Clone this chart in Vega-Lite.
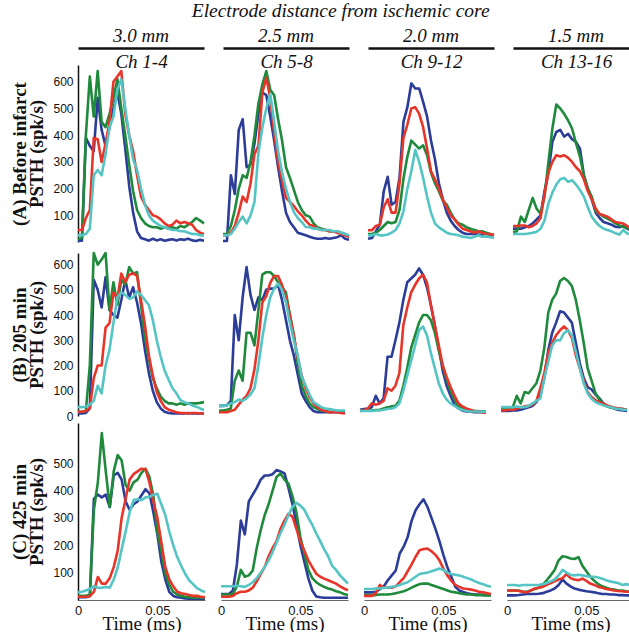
{
"$schema":"https://vega.github.io/schema/vega-lite/v6.json",
"padding":{"left":10,"top":0,"right":0,"bottom":0},
"background":"white",
"title":{"text":"Electrode distance from ischemic core","anchor":"middle","dx":15,"offset":6,"fontSize":19.5},
"config":{
 "view":{"stroke":null},
 "line":{"strokeWidth":2.6,"clip":true,"strokeJoin":"round","strokeCap":"butt"},
 "title":{"font":"Liberation Serif","fontStyle":"italic","fontWeight":"normal","fontSize":19,"color":"#111","offset":2},
 "axis":{"grid":false,"ticks":false,"labelFont":"Liberation Sans","labelFontSize":12,"labelColor":"#111","domainColor":"#111","titleColor":"#111","titleFont":"Liberation Serif"},
 "axisY":{"labelPadding":5,"domainWidth":1.5,"titleFontSize":19,"titleFontWeight":"bold","titleLineHeight":17,"titlePadding":6},
 "axisX":{"labelFontSize":13,"labelFlush":false,"labelPadding":4,"domainColor":"#666","domainWidth":1.2,"titleFontWeight":"normal","titleFontSize":19,"titlePadding":-3}
},
"data":{"values":[
{"p":"A1","t":0,"b":5,"g":10,"r":45,"c":25},
{"p":"A1","t":0.0025,"b":5,"g":15,"r":45,"c":25},
{"p":"A1","t":0.005,"b":390,"g":400,"r":90,"c":30},
{"p":"A1","t":0.0075,"b":360,"g":620,"r":120,"c":50},
{"p":"A1","t":0.01,"b":340,"g":470,"r":390,"c":250},
{"p":"A1","t":0.0125,"b":540,"g":640,"r":385,"c":270},
{"p":"A1","t":0.015,"b":420,"g":450,"r":300,"c":250},
{"p":"A1","t":0.0175,"b":360,"g":430,"r":370,"c":330},
{"p":"A1","t":0.02,"b":430,"g":480,"r":450,"c":430},
{"p":"A1","t":0.0225,"b":500,"g":540,"r":600,"c":470},
{"p":"A1","t":0.025,"b":560,"g":610,"r":620,"c":570},
{"p":"A1","t":0.0275,"b":480,"g":500,"r":640,"c":610},
{"p":"A1","t":0.03,"b":350,"g":400,"r":480,"c":500},
{"p":"A1","t":0.0325,"b":210,"g":290,"r":400,"c":400},
{"p":"A1","t":0.035,"b":110,"g":190,"r":340,"c":310},
{"p":"A1","t":0.0375,"b":40,"g":120,"r":250,"c":270},
{"p":"A1","t":0.04,"b":15,"g":90,"r":170,"c":200},
{"p":"A1","t":0.0425,"b":10,"g":70,"r":140,"c":140},
{"p":"A1","t":0.045,"b":5,"g":60,"r":120,"c":100},
{"p":"A1","t":0.0475,"b":12,"g":55,"r":100,"c":80},
{"p":"A1","t":0.05,"b":6,"g":55,"r":95,"c":70},
{"p":"A1","t":0.0525,"b":10,"g":50,"r":85,"c":60},
{"p":"A1","t":0.055,"b":5,"g":55,"r":70,"c":55},
{"p":"A1","t":0.0575,"b":8,"g":50,"r":60,"c":50},
{"p":"A1","t":0.06,"b":10,"g":55,"r":65,"c":45},
{"p":"A1","t":0.0625,"b":6,"g":50,"r":80,"c":45},
{"p":"A1","t":0.065,"b":10,"g":60,"r":70,"c":40},
{"p":"A1","t":0.0675,"b":8,"g":55,"r":75,"c":40},
{"p":"A1","t":0.07,"b":12,"g":65,"r":70,"c":35},
{"p":"A1","t":0.0725,"b":6,"g":75,"r":65,"c":30},
{"p":"A1","t":0.075,"b":4,"g":90,"r":45,"c":30},
{"p":"A1","t":0.0775,"b":8,"g":80,"r":35,"c":25},
{"p":"A1","t":0.08,"b":5,"g":70,"r":30,"c":25},
{"p":"A2","t":0,"b":4,"g":30,"r":25,"c":25},
{"p":"A2","t":0.0025,"b":4,"g":30,"r":25,"c":25},
{"p":"A2","t":0.005,"b":250,"g":60,"r":35,"c":30},
{"p":"A2","t":0.0075,"b":180,"g":120,"r":60,"c":50},
{"p":"A2","t":0.01,"b":420,"g":200,"r":110,"c":75},
{"p":"A2","t":0.0125,"b":460,"g":250,"r":170,"c":95},
{"p":"A2","t":0.015,"b":280,"g":240,"r":150,"c":70},
{"p":"A2","t":0.0175,"b":290,"g":300,"r":220,"c":100},
{"p":"A2","t":0.02,"b":370,"g":400,"r":330,"c":150},
{"p":"A2","t":0.0225,"b":480,"g":520,"r":360,"c":335},
{"p":"A2","t":0.025,"b":560,"g":590,"r":560,"c":430},
{"p":"A2","t":0.0275,"b":550,"g":640,"r":615,"c":500},
{"p":"A2","t":0.03,"b":470,"g":570,"r":540,"c":555},
{"p":"A2","t":0.0325,"b":380,"g":550,"r":410,"c":450},
{"p":"A2","t":0.035,"b":280,"g":460,"r":300,"c":340},
{"p":"A2","t":0.0375,"b":190,"g":380,"r":230,"c":260},
{"p":"A2","t":0.04,"b":110,"g":280,"r":165,"c":200},
{"p":"A2","t":0.0425,"b":75,"g":240,"r":150,"c":150},
{"p":"A2","t":0.045,"b":55,"g":195,"r":135,"c":112},
{"p":"A2","t":0.0475,"b":35,"g":150,"r":115,"c":90},
{"p":"A2","t":0.05,"b":30,"g":120,"r":100,"c":75},
{"p":"A2","t":0.0525,"b":25,"g":100,"r":80,"c":56},
{"p":"A2","t":0.055,"b":20,"g":95,"r":65,"c":55},
{"p":"A2","t":0.0575,"b":15,"g":70,"r":60,"c":50},
{"p":"A2","t":0.06,"b":12,"g":55,"r":50,"c":50},
{"p":"A2","t":0.0625,"b":12,"g":50,"r":45,"c":45},
{"p":"A2","t":0.065,"b":15,"g":45,"r":45,"c":45},
{"p":"A2","t":0.0675,"b":12,"g":40,"r":40,"c":45},
{"p":"A2","t":0.07,"b":15,"g":40,"r":40,"c":40},
{"p":"A2","t":0.0725,"b":18,"g":40,"r":35,"c":40},
{"p":"A2","t":0.075,"b":25,"g":35,"r":30,"c":35},
{"p":"A2","t":0.0775,"b":12,"g":30,"r":25,"c":30},
{"p":"A2","t":0.08,"b":8,"g":20,"r":20,"c":25},
{"p":"A3","t":0,"b":12,"g":30,"r":44,"c":25},
{"p":"A3","t":0.0025,"b":15,"g":30,"r":44,"c":25},
{"p":"A3","t":0.005,"b":40,"g":35,"r":60,"c":30},
{"p":"A3","t":0.0075,"b":65,"g":45,"r":65,"c":25},
{"p":"A3","t":0.01,"b":190,"g":60,"r":130,"c":25},
{"p":"A3","t":0.0125,"b":244,"g":75,"r":160,"c":28},
{"p":"A3","t":0.015,"b":140,"g":70,"r":110,"c":35},
{"p":"A3","t":0.0175,"b":150,"g":75,"r":110,"c":45},
{"p":"A3","t":0.02,"b":240,"g":120,"r":220,"c":70},
{"p":"A3","t":0.0225,"b":450,"g":237,"r":390,"c":115},
{"p":"A3","t":0.025,"b":505,"g":320,"r":440,"c":200},
{"p":"A3","t":0.0275,"b":594,"g":380,"r":500,"c":265},
{"p":"A3","t":0.03,"b":575,"g":365,"r":505,"c":345},
{"p":"A3","t":0.0325,"b":575,"g":350,"r":480,"c":300},
{"p":"A3","t":0.035,"b":525,"g":362,"r":430,"c":240},
{"p":"A3","t":0.0375,"b":470,"g":325,"r":350,"c":170},
{"p":"A3","t":0.04,"b":380,"g":260,"r":265,"c":110},
{"p":"A3","t":0.0425,"b":310,"g":220,"r":235,"c":70},
{"p":"A3","t":0.045,"b":220,"g":190,"r":200,"c":55},
{"p":"A3","t":0.0475,"b":160,"g":155,"r":160,"c":45},
{"p":"A3","t":0.05,"b":110,"g":140,"r":130,"c":35},
{"p":"A3","t":0.0525,"b":80,"g":110,"r":100,"c":30},
{"p":"A3","t":0.055,"b":60,"g":85,"r":85,"c":28},
{"p":"A3","t":0.0575,"b":45,"g":70,"r":65,"c":25},
{"p":"A3","t":0.06,"b":35,"g":65,"r":50,"c":20},
{"p":"A3","t":0.0625,"b":30,"g":55,"r":45,"c":18},
{"p":"A3","t":0.065,"b":30,"g":50,"r":40,"c":15},
{"p":"A3","t":0.0675,"b":30,"g":45,"r":35,"c":20},
{"p":"A3","t":0.07,"b":28,"g":40,"r":40,"c":25},
{"p":"A3","t":0.0725,"b":25,"g":40,"r":35,"c":20},
{"p":"A3","t":0.075,"b":22,"g":35,"r":30,"c":22},
{"p":"A3","t":0.0775,"b":20,"g":30,"r":30,"c":18},
{"p":"A3","t":0.08,"b":18,"g":27,"r":25,"c":18},
{"p":"A4","t":0,"b":50,"g":37,"r":60,"c":30},
{"p":"A4","t":0.0025,"b":50,"g":40,"r":60,"c":30},
{"p":"A4","t":0.005,"b":50,"g":95,"r":62,"c":30},
{"p":"A4","t":0.0075,"b":55,"g":75,"r":62,"c":30},
{"p":"A4","t":0.01,"b":60,"g":120,"r":55,"c":32},
{"p":"A4","t":0.0125,"b":70,"g":165,"r":60,"c":35},
{"p":"A4","t":0.015,"b":85,"g":125,"r":70,"c":38},
{"p":"A4","t":0.0175,"b":100,"g":106,"r":90,"c":50},
{"p":"A4","t":0.02,"b":190,"g":170,"r":180,"c":80},
{"p":"A4","t":0.0225,"b":260,"g":300,"r":260,"c":145},
{"p":"A4","t":0.025,"b":375,"g":425,"r":300,"c":185},
{"p":"A4","t":0.0275,"b":412,"g":515,"r":325,"c":215},
{"p":"A4","t":0.03,"b":420,"g":500,"r":320,"c":235},
{"p":"A4","t":0.0325,"b":395,"g":480,"r":325,"c":240},
{"p":"A4","t":0.035,"b":405,"g":455,"r":315,"c":225},
{"p":"A4","t":0.0375,"b":385,"g":425,"r":300,"c":232},
{"p":"A4","t":0.04,"b":375,"g":370,"r":280,"c":215},
{"p":"A4","t":0.0425,"b":350,"g":320,"r":265,"c":195},
{"p":"A4","t":0.045,"b":250,"g":250,"r":235,"c":170},
{"p":"A4","t":0.0475,"b":200,"g":200,"r":190,"c":130},
{"p":"A4","t":0.05,"b":160,"g":170,"r":160,"c":95},
{"p":"A4","t":0.0525,"b":110,"g":115,"r":125,"c":75},
{"p":"A4","t":0.055,"b":90,"g":105,"r":105,"c":60},
{"p":"A4","t":0.0575,"b":75,"g":95,"r":100,"c":50},
{"p":"A4","t":0.06,"b":70,"g":88,"r":95,"c":45},
{"p":"A4","t":0.0625,"b":65,"g":80,"r":85,"c":40},
{"p":"A4","t":0.065,"b":57,"g":70,"r":75,"c":33},
{"p":"A4","t":0.0675,"b":55,"g":62,"r":72,"c":28},
{"p":"A4","t":0.07,"b":60,"g":56,"r":69,"c":45},
{"p":"A4","t":0.0725,"b":50,"g":52,"r":60,"c":32},
{"p":"A4","t":0.075,"b":45,"g":50,"r":50,"c":28},
{"p":"A4","t":0.0775,"b":40,"g":45,"r":40,"c":25},
{"p":"A4","t":0.08,"b":30,"g":30,"r":30,"c":25},
{"p":"B1","t":0,"b":10,"g":17,"r":17,"c":35},
{"p":"B1","t":0.0025,"b":10,"g":17,"r":17,"c":35},
{"p":"B1","t":0.005,"b":12,"g":20,"r":20,"c":38},
{"p":"B1","t":0.0075,"b":30,"g":200,"r":30,"c":45},
{"p":"B1","t":0.01,"b":540,"g":646,"r":150,"c":60},
{"p":"B1","t":0.0125,"b":500,"g":600,"r":200,"c":120},
{"p":"B1","t":0.015,"b":430,"g":620,"r":200,"c":90},
{"p":"B1","t":0.0175,"b":550,"g":646,"r":350,"c":200},
{"p":"B1","t":0.02,"b":420,"g":420,"r":368,"c":262},
{"p":"B1","t":0.0225,"b":400,"g":530,"r":490,"c":370},
{"p":"B1","t":0.025,"b":390,"g":440,"r":465,"c":470},
{"p":"B1","t":0.0275,"b":460,"g":540,"r":565,"c":490},
{"p":"B1","t":0.03,"b":540,"g":520,"r":530,"c":480},
{"p":"B1","t":0.0325,"b":470,"g":590,"r":560,"c":465},
{"p":"B1","t":0.035,"b":510,"g":565,"r":565,"c":470},
{"p":"B1","t":0.0375,"b":450,"g":570,"r":555,"c":494},
{"p":"B1","t":0.04,"b":368,"g":440,"r":460,"c":480},
{"p":"B1","t":0.0425,"b":262,"g":310,"r":360,"c":460},
{"p":"B1","t":0.045,"b":170,"g":225,"r":240,"c":440},
{"p":"B1","t":0.0475,"b":100,"g":150,"r":160,"c":380},
{"p":"B1","t":0.05,"b":55,"g":110,"r":95,"c":300},
{"p":"B1","t":0.0525,"b":30,"g":77,"r":60,"c":235},
{"p":"B1","t":0.055,"b":17,"g":60,"r":35,"c":180},
{"p":"B1","t":0.0575,"b":12,"g":50,"r":25,"c":145},
{"p":"B1","t":0.06,"b":10,"g":50,"r":20,"c":110},
{"p":"B1","t":0.0625,"b":10,"g":45,"r":15,"c":90},
{"p":"B1","t":0.065,"b":10,"g":50,"r":12,"c":63},
{"p":"B1","t":0.0675,"b":10,"g":45,"r":12,"c":55},
{"p":"B1","t":0.07,"b":12,"g":50,"r":10,"c":50},
{"p":"B1","t":0.0725,"b":10,"g":50,"r":12,"c":42},
{"p":"B1","t":0.075,"b":10,"g":50,"r":12,"c":37},
{"p":"B1","t":0.0775,"b":10,"g":52,"r":10,"c":30},
{"p":"B1","t":0.08,"b":10,"g":55,"r":10,"c":24},
{"p":"B2","t":0,"b":40,"g":22,"r":15,"c":40},
{"p":"B2","t":0.0025,"b":40,"g":22,"r":15,"c":40},
{"p":"B2","t":0.005,"b":42,"g":25,"r":15,"c":42},
{"p":"B2","t":0.0075,"b":60,"g":30,"r":20,"c":50},
{"p":"B2","t":0.01,"b":400,"g":140,"r":25,"c":55},
{"p":"B2","t":0.0125,"b":300,"g":180,"r":45,"c":65},
{"p":"B2","t":0.015,"b":470,"g":140,"r":65,"c":60},
{"p":"B2","t":0.0175,"b":590,"g":330,"r":80,"c":70},
{"p":"B2","t":0.02,"b":480,"g":330,"r":110,"c":85},
{"p":"B2","t":0.0225,"b":420,"g":280,"r":185,"c":110},
{"p":"B2","t":0.025,"b":470,"g":420,"r":300,"c":200},
{"p":"B2","t":0.0275,"b":460,"g":560,"r":450,"c":310},
{"p":"B2","t":0.03,"b":500,"g":570,"r":475,"c":400},
{"p":"B2","t":0.0325,"b":505,"g":570,"r":527,"c":470},
{"p":"B2","t":0.035,"b":505,"g":555,"r":555,"c":505},
{"p":"B2","t":0.0375,"b":520,"g":530,"r":555,"c":525},
{"p":"B2","t":0.04,"b":460,"g":510,"r":520,"c":500},
{"p":"B2","t":0.0425,"b":380,"g":490,"r":470,"c":450},
{"p":"B2","t":0.045,"b":300,"g":400,"r":400,"c":370},
{"p":"B2","t":0.0475,"b":240,"g":320,"r":320,"c":300},
{"p":"B2","t":0.05,"b":165,"g":210,"r":230,"c":240},
{"p":"B2","t":0.0525,"b":90,"g":120,"r":160,"c":156},
{"p":"B2","t":0.055,"b":60,"g":80,"r":110,"c":120},
{"p":"B2","t":0.0575,"b":35,"g":50,"r":75,"c":85},
{"p":"B2","t":0.06,"b":20,"g":35,"r":50,"c":55},
{"p":"B2","t":0.0625,"b":15,"g":28,"r":35,"c":45},
{"p":"B2","t":0.065,"b":15,"g":22,"r":25,"c":35},
{"p":"B2","t":0.0675,"b":15,"g":20,"r":20,"c":30},
{"p":"B2","t":0.07,"b":15,"g":17,"r":15,"c":28},
{"p":"B2","t":0.0725,"b":15,"g":17,"r":15,"c":25},
{"p":"B2","t":0.075,"b":15,"g":17,"r":15,"c":22},
{"p":"B2","t":0.0775,"b":15,"g":17,"r":12,"c":22},
{"p":"B2","t":0.08,"b":15,"g":17,"r":10,"c":22},
{"p":"B3","t":0,"b":25,"g":22,"r":20,"c":20},
{"p":"B3","t":0.0025,"b":28,"g":22,"r":22,"c":20},
{"p":"B3","t":0.005,"b":30,"g":22,"r":30,"c":20},
{"p":"B3","t":0.0075,"b":35,"g":22,"r":50,"c":20},
{"p":"B3","t":0.01,"b":80,"g":24,"r":45,"c":22},
{"p":"B3","t":0.0125,"b":50,"g":25,"r":50,"c":22},
{"p":"B3","t":0.015,"b":70,"g":30,"r":60,"c":25},
{"p":"B3","t":0.0175,"b":235,"g":35,"r":110,"c":28},
{"p":"B3","t":0.02,"b":235,"g":38,"r":100,"c":30},
{"p":"B3","t":0.0225,"b":300,"g":40,"r":120,"c":35},
{"p":"B3","t":0.025,"b":370,"g":60,"r":170,"c":50},
{"p":"B3","t":0.0275,"b":460,"g":120,"r":360,"c":100},
{"p":"B3","t":0.03,"b":530,"g":190,"r":430,"c":160},
{"p":"B3","t":0.0325,"b":545,"g":270,"r":490,"c":220},
{"p":"B3","t":0.035,"b":560,"g":320,"r":520,"c":280},
{"p":"B3","t":0.0375,"b":585,"g":370,"r":545,"c":340},
{"p":"B3","t":0.04,"b":560,"g":400,"r":560,"c":355},
{"p":"B3","t":0.0425,"b":510,"g":400,"r":530,"c":320},
{"p":"B3","t":0.045,"b":440,"g":380,"r":440,"c":250},
{"p":"B3","t":0.0475,"b":360,"g":330,"r":360,"c":190},
{"p":"B3","t":0.05,"b":270,"g":260,"r":280,"c":130},
{"p":"B3","t":0.0525,"b":180,"g":200,"r":200,"c":90},
{"p":"B3","t":0.055,"b":120,"g":145,"r":155,"c":65},
{"p":"B3","t":0.0575,"b":80,"g":100,"r":115,"c":50},
{"p":"B3","t":0.06,"b":45,"g":65,"r":80,"c":40},
{"p":"B3","t":0.0625,"b":30,"g":40,"r":50,"c":30},
{"p":"B3","t":0.065,"b":22,"g":30,"r":38,"c":25},
{"p":"B3","t":0.0675,"b":18,"g":25,"r":30,"c":20},
{"p":"B3","t":0.07,"b":18,"g":22,"r":25,"c":18},
{"p":"B3","t":0.0725,"b":15,"g":20,"r":20,"c":18},
{"p":"B3","t":0.075,"b":15,"g":20,"r":18,"c":18},
{"p":"B3","t":0.0775,"b":15,"g":18,"r":15,"c":17},
{"p":"B3","t":0.08,"b":15,"g":18,"r":12,"c":17},
{"p":"B4","t":0,"b":20,"g":28,"r":22,"c":35},
{"p":"B4","t":0.0025,"b":20,"g":30,"r":22,"c":35},
{"p":"B4","t":0.005,"b":20,"g":30,"r":25,"c":35},
{"p":"B4","t":0.0075,"b":22,"g":35,"r":25,"c":35},
{"p":"B4","t":0.01,"b":22,"g":80,"r":30,"c":38},
{"p":"B4","t":0.0125,"b":25,"g":50,"r":35,"c":35},
{"p":"B4","t":0.015,"b":30,"g":95,"r":38,"c":35},
{"p":"B4","t":0.0175,"b":35,"g":90,"r":40,"c":40},
{"p":"B4","t":0.02,"b":40,"g":110,"r":45,"c":50},
{"p":"B4","t":0.0225,"b":55,"g":130,"r":60,"c":60},
{"p":"B4","t":0.025,"b":90,"g":180,"r":110,"c":70},
{"p":"B4","t":0.0275,"b":150,"g":270,"r":170,"c":150},
{"p":"B4","t":0.03,"b":260,"g":410,"r":250,"c":215},
{"p":"B4","t":0.0325,"b":330,"g":460,"r":290,"c":280},
{"p":"B4","t":0.035,"b":370,"g":485,"r":320,"c":300},
{"p":"B4","t":0.0375,"b":415,"g":535,"r":340,"c":300},
{"p":"B4","t":0.04,"b":410,"g":547,"r":355,"c":328},
{"p":"B4","t":0.0425,"b":390,"g":535,"r":340,"c":340},
{"p":"B4","t":0.045,"b":370,"g":515,"r":310,"c":320},
{"p":"B4","t":0.0475,"b":290,"g":460,"r":240,"c":255},
{"p":"B4","t":0.05,"b":210,"g":380,"r":190,"c":190},
{"p":"B4","t":0.0525,"b":150,"g":290,"r":140,"c":130},
{"p":"B4","t":0.055,"b":115,"g":190,"r":95,"c":90},
{"p":"B4","t":0.0575,"b":105,"g":140,"r":75,"c":68},
{"p":"B4","t":0.06,"b":85,"g":90,"r":63,"c":55},
{"p":"B4","t":0.0625,"b":70,"g":65,"r":55,"c":48},
{"p":"B4","t":0.065,"b":50,"g":45,"r":48,"c":42},
{"p":"B4","t":0.0675,"b":40,"g":38,"r":42,"c":38},
{"p":"B4","t":0.07,"b":35,"g":33,"r":37,"c":35},
{"p":"B4","t":0.0725,"b":28,"g":30,"r":33,"c":30},
{"p":"B4","t":0.075,"b":24,"g":30,"r":30,"c":28},
{"p":"B4","t":0.0775,"b":22,"g":28,"r":28,"c":25},
{"p":"B4","t":0.08,"b":20,"g":25,"r":25,"c":25},
{"p":"C1","t":0,"b":10,"g":15,"r":12,"c":28},
{"p":"C1","t":0.0025,"b":10,"g":15,"r":12,"c":30},
{"p":"C1","t":0.005,"b":10,"g":15,"r":12,"c":35},
{"p":"C1","t":0.0075,"b":15,"g":20,"r":14,"c":40},
{"p":"C1","t":0.01,"b":370,"g":330,"r":30,"c":50},
{"p":"C1","t":0.0125,"b":385,"g":430,"r":84,"c":45},
{"p":"C1","t":0.015,"b":375,"g":610,"r":60,"c":45},
{"p":"C1","t":0.0175,"b":385,"g":470,"r":60,"c":48},
{"p":"C1","t":0.02,"b":340,"g":340,"r":80,"c":45},
{"p":"C1","t":0.0225,"b":455,"g":470,"r":120,"c":75},
{"p":"C1","t":0.025,"b":465,"g":530,"r":180,"c":118},
{"p":"C1","t":0.0275,"b":440,"g":510,"r":300,"c":185},
{"p":"C1","t":0.03,"b":360,"g":420,"r":370,"c":250},
{"p":"C1","t":0.0325,"b":330,"g":400,"r":440,"c":320},
{"p":"C1","t":0.035,"b":350,"g":430,"r":460,"c":365},
{"p":"C1","t":0.0375,"b":360,"g":440,"r":470,"c":368},
{"p":"C1","t":0.04,"b":383,"g":465,"r":480,"c":365},
{"p":"C1","t":0.0425,"b":405,"g":480,"r":478,"c":375},
{"p":"C1","t":0.045,"b":390,"g":450,"r":430,"c":377},
{"p":"C1","t":0.0475,"b":320,"g":380,"r":360,"c":385},
{"p":"C1","t":0.05,"b":240,"g":250,"r":300,"c":388},
{"p":"C1","t":0.0525,"b":140,"g":180,"r":210,"c":350},
{"p":"C1","t":0.055,"b":75,"g":96,"r":120,"c":310},
{"p":"C1","t":0.0575,"b":30,"g":55,"r":75,"c":250},
{"p":"C1","t":0.06,"b":15,"g":30,"r":50,"c":200},
{"p":"C1","t":0.0625,"b":10,"g":20,"r":30,"c":157},
{"p":"C1","t":0.065,"b":8,"g":15,"r":25,"c":125},
{"p":"C1","t":0.0675,"b":6,"g":12,"r":22,"c":96},
{"p":"C1","t":0.07,"b":5,"g":10,"r":18,"c":72},
{"p":"C1","t":0.0725,"b":5,"g":8,"r":15,"c":58},
{"p":"C1","t":0.075,"b":5,"g":8,"r":15,"c":43},
{"p":"C1","t":0.0775,"b":5,"g":8,"r":12,"c":35},
{"p":"C1","t":0.08,"b":5,"g":8,"r":10,"c":29},
{"p":"C2","t":0,"b":22,"g":20,"r":12,"c":50},
{"p":"C2","t":0.0025,"b":22,"g":20,"r":12,"c":50},
{"p":"C2","t":0.005,"b":22,"g":20,"r":12,"c":50},
{"p":"C2","t":0.0075,"b":35,"g":22,"r":15,"c":50},
{"p":"C2","t":0.01,"b":130,"g":50,"r":25,"c":52},
{"p":"C2","t":0.0125,"b":290,"g":110,"r":30,"c":50},
{"p":"C2","t":0.015,"b":240,"g":85,"r":30,"c":48},
{"p":"C2","t":0.0175,"b":360,"g":90,"r":35,"c":55},
{"p":"C2","t":0.02,"b":385,"g":108,"r":45,"c":65},
{"p":"C2","t":0.0225,"b":410,"g":190,"r":68,"c":80},
{"p":"C2","t":0.025,"b":440,"g":255,"r":95,"c":100},
{"p":"C2","t":0.0275,"b":455,"g":310,"r":120,"c":120},
{"p":"C2","t":0.03,"b":455,"g":350,"r":160,"c":145},
{"p":"C2","t":0.0325,"b":460,"g":400,"r":190,"c":175},
{"p":"C2","t":0.035,"b":475,"g":450,"r":215,"c":210},
{"p":"C2","t":0.0375,"b":470,"g":462,"r":260,"c":245},
{"p":"C2","t":0.04,"b":463,"g":440,"r":290,"c":275},
{"p":"C2","t":0.0425,"b":410,"g":425,"r":315,"c":310},
{"p":"C2","t":0.045,"b":350,"g":380,"r":305,"c":340},
{"p":"C2","t":0.0475,"b":280,"g":320,"r":260,"c":355},
{"p":"C2","t":0.05,"b":200,"g":230,"r":215,"c":345},
{"p":"C2","t":0.0525,"b":140,"g":170,"r":180,"c":330},
{"p":"C2","t":0.055,"b":80,"g":110,"r":145,"c":300},
{"p":"C2","t":0.0575,"b":35,"g":80,"r":120,"c":275},
{"p":"C2","t":0.06,"b":13,"g":65,"r":96,"c":243},
{"p":"C2","t":0.0625,"b":10,"g":55,"r":85,"c":215},
{"p":"C2","t":0.065,"b":8,"g":48,"r":78,"c":185},
{"p":"C2","t":0.0675,"b":8,"g":42,"r":72,"c":160},
{"p":"C2","t":0.07,"b":8,"g":38,"r":66,"c":125},
{"p":"C2","t":0.0725,"b":8,"g":32,"r":60,"c":110},
{"p":"C2","t":0.075,"b":8,"g":28,"r":50,"c":90},
{"p":"C2","t":0.0775,"b":8,"g":22,"r":42,"c":75},
{"p":"C2","t":0.08,"b":8,"g":18,"r":35,"c":60},
{"p":"C3","t":0,"b":28,"g":18,"r":15,"c":40},
{"p":"C3","t":0.0025,"b":28,"g":18,"r":15,"c":40},
{"p":"C3","t":0.005,"b":28,"g":18,"r":15,"c":40},
{"p":"C3","t":0.0075,"b":30,"g":18,"r":25,"c":42},
{"p":"C3","t":0.01,"b":40,"g":20,"r":55,"c":42},
{"p":"C3","t":0.0125,"b":50,"g":20,"r":45,"c":45},
{"p":"C3","t":0.015,"b":72,"g":20,"r":45,"c":45},
{"p":"C3","t":0.0175,"b":90,"g":22,"r":45,"c":48},
{"p":"C3","t":0.02,"b":108,"g":25,"r":50,"c":50},
{"p":"C3","t":0.0225,"b":170,"g":28,"r":65,"c":55},
{"p":"C3","t":0.025,"b":195,"g":32,"r":80,"c":60},
{"p":"C3","t":0.0275,"b":230,"g":38,"r":105,"c":65},
{"p":"C3","t":0.03,"b":290,"g":45,"r":130,"c":75},
{"p":"C3","t":0.0325,"b":328,"g":52,"r":158,"c":85},
{"p":"C3","t":0.035,"b":350,"g":58,"r":182,"c":95},
{"p":"C3","t":0.0375,"b":368,"g":60,"r":186,"c":98},
{"p":"C3","t":0.04,"b":340,"g":60,"r":188,"c":100},
{"p":"C3","t":0.0425,"b":300,"g":55,"r":178,"c":105},
{"p":"C3","t":0.045,"b":260,"g":50,"r":165,"c":110},
{"p":"C3","t":0.0475,"b":215,"g":45,"r":145,"c":115},
{"p":"C3","t":0.05,"b":165,"g":40,"r":115,"c":110},
{"p":"C3","t":0.0525,"b":120,"g":35,"r":90,"c":100},
{"p":"C3","t":0.055,"b":85,"g":30,"r":70,"c":95},
{"p":"C3","t":0.0575,"b":48,"g":28,"r":55,"c":92},
{"p":"C3","t":0.06,"b":35,"g":25,"r":48,"c":90},
{"p":"C3","t":0.0625,"b":29,"g":22,"r":42,"c":85},
{"p":"C3","t":0.065,"b":25,"g":20,"r":40,"c":80},
{"p":"C3","t":0.0675,"b":22,"g":20,"r":38,"c":75},
{"p":"C3","t":0.07,"b":20,"g":18,"r":35,"c":68},
{"p":"C3","t":0.0725,"b":20,"g":18,"r":30,"c":62},
{"p":"C3","t":0.075,"b":18,"g":18,"r":28,"c":58},
{"p":"C3","t":0.0775,"b":18,"g":17,"r":25,"c":52},
{"p":"C3","t":0.08,"b":18,"g":17,"r":22,"c":48},
{"p":"C4","t":0,"b":17,"g":35,"r":35,"c":55},
{"p":"C4","t":0.0025,"b":17,"g":35,"r":35,"c":55},
{"p":"C4","t":0.005,"b":17,"g":35,"r":35,"c":55},
{"p":"C4","t":0.0075,"b":18,"g":35,"r":33,"c":52},
{"p":"C4","t":0.01,"b":20,"g":30,"r":30,"c":55},
{"p":"C4","t":0.0125,"b":22,"g":30,"r":28,"c":55},
{"p":"C4","t":0.015,"b":22,"g":35,"r":35,"c":55},
{"p":"C4","t":0.0175,"b":22,"g":40,"r":42,"c":55},
{"p":"C4","t":0.02,"b":23,"g":45,"r":45,"c":55},
{"p":"C4","t":0.0225,"b":25,"g":55,"r":48,"c":58},
{"p":"C4","t":0.025,"b":30,"g":72,"r":55,"c":62},
{"p":"C4","t":0.0275,"b":35,"g":90,"r":62,"c":68},
{"p":"C4","t":0.03,"b":42,"g":110,"r":68,"c":75},
{"p":"C4","t":0.0325,"b":55,"g":145,"r":75,"c":90},
{"p":"C4","t":0.035,"b":75,"g":160,"r":80,"c":110},
{"p":"C4","t":0.0375,"b":60,"g":157,"r":95,"c":100},
{"p":"C4","t":0.04,"b":50,"g":152,"r":80,"c":92},
{"p":"C4","t":0.0425,"b":42,"g":150,"r":75,"c":90},
{"p":"C4","t":0.045,"b":38,"g":157,"r":72,"c":92},
{"p":"C4","t":0.0475,"b":35,"g":125,"r":78,"c":90},
{"p":"C4","t":0.05,"b":32,"g":105,"r":70,"c":88},
{"p":"C4","t":0.0525,"b":30,"g":85,"r":60,"c":85},
{"p":"C4","t":0.055,"b":28,"g":70,"r":55,"c":85},
{"p":"C4","t":0.0575,"b":25,"g":58,"r":48,"c":82},
{"p":"C4","t":0.06,"b":22,"g":50,"r":45,"c":78},
{"p":"C4","t":0.0625,"b":22,"g":45,"r":40,"c":72},
{"p":"C4","t":0.065,"b":20,"g":40,"r":38,"c":68},
{"p":"C4","t":0.0675,"b":20,"g":38,"r":35,"c":65},
{"p":"C4","t":0.07,"b":18,"g":35,"r":33,"c":62},
{"p":"C4","t":0.0725,"b":18,"g":35,"r":32,"c":55},
{"p":"C4","t":0.075,"b":17,"g":32,"r":30,"c":58},
{"p":"C4","t":0.0775,"b":17,"g":30,"r":30,"c":55},
{"p":"C4","t":0.08,"b":17,"g":28,"r":28,"c":55}
]},
"vconcat":[
 {"vconcat":[
  {"hconcat":[
   {"width":126,"height":177,"title":"3.0 mm",
    "transform":[{"filter":"datum.p=='A1'"},{"fold":["b","g","r","c"],"as":["s","v"]}],
    "mark":"line",
    "encoding":{
     "x":{"field":"t","type":"quantitative","scale":{"domain":[0,0.08],"nice":false},"axis":{"orient":"top","offset":17,"labels":false,"domainWidth":2.5,"domainColor":"#111","title":"Ch 1-4","titleFontStyle":"italic","titleFontWeight":"normal","titleFontSize":19,"titleY":13,"titleBaseline":"middle"}},
     "y":{"field":"v","type":"quantitative","scale":{"domain":[0,663],"nice":false},"axis":{"values":[100,200,300,400,500,600],"title":["(A)  Before infarct","PSTH (spk/s)"]}},
     "color":{"field":"s","type":"nominal","scale":{"domain":["b","g","r","c"],"range":["#2b3d98","#1f8a3c","#e73529","#55c4c4"]},"legend":null}}},
   {"width":126,"height":177,"title":"2.5 mm",
    "transform":[{"filter":"datum.p=='A2'"},{"fold":["b","g","r","c"],"as":["s","v"]}],
    "mark":"line",
    "encoding":{
     "x":{"field":"t","type":"quantitative","scale":{"domain":[0,0.08],"nice":false},"axis":{"orient":"top","offset":17,"labels":false,"domainWidth":2.5,"domainColor":"#111","title":"Ch 5-8","titleFontStyle":"italic","titleFontWeight":"normal","titleFontSize":19,"titleY":13,"titleBaseline":"middle"}},
     "y":{"field":"v","type":"quantitative","scale":{"domain":[0,663],"nice":false},"axis":null},
     "color":{"field":"s","type":"nominal","scale":{"domain":["b","g","r","c"],"range":["#2b3d98","#1f8a3c","#e73529","#55c4c4"]},"legend":null}}},
   {"width":126,"height":177,"title":"2.0 mm",
    "transform":[{"filter":"datum.p=='A3'"},{"fold":["b","g","r","c"],"as":["s","v"]}],
    "mark":"line",
    "encoding":{
     "x":{"field":"t","type":"quantitative","scale":{"domain":[0,0.08],"nice":false},"axis":{"orient":"top","offset":17,"labels":false,"domainWidth":2.5,"domainColor":"#111","title":"Ch 9-12","titleFontStyle":"italic","titleFontWeight":"normal","titleFontSize":19,"titleY":13,"titleBaseline":"middle"}},
     "y":{"field":"v","type":"quantitative","scale":{"domain":[0,663],"nice":false},"axis":null},
     "color":{"field":"s","type":"nominal","scale":{"domain":["b","g","r","c"],"range":["#2b3d98","#1f8a3c","#e73529","#55c4c4"]},"legend":null}}},
   {"width":126,"height":177,"title":"1.5 mm",
    "transform":[{"filter":"datum.p=='A4'"},{"fold":["b","g","r","c"],"as":["s","v"]}],
    "mark":"line",
    "encoding":{
     "x":{"field":"t","type":"quantitative","scale":{"domain":[0,0.08],"nice":false},"axis":{"orient":"top","offset":17,"labels":false,"domainWidth":2.5,"domainColor":"#111","title":"Ch 13-16","titleFontStyle":"italic","titleFontWeight":"normal","titleFontSize":19,"titleY":13,"titleBaseline":"middle"}},
     "y":{"field":"v","type":"quantitative","scale":{"domain":[0,663],"nice":false},"axis":null},
     "color":{"field":"s","type":"nominal","scale":{"domain":["b","g","r","c"],"range":["#2b3d98","#1f8a3c","#e73529","#55c4c4"]},"legend":null}}}
  ],"spacing":15},
  {"hconcat":[
   {"width":126,"height":163,
    "transform":[{"filter":"datum.p=='B1'"},{"fold":["b","g","r","c"],"as":["s","v"]}],
    "mark":"line",
    "encoding":{
     "x":{"field":"t","type":"quantitative","scale":{"domain":[0,0.08],"nice":false},"axis":null},
     "y":{"field":"v","type":"quantitative","scale":{"domain":[0,646],"nice":false},"axis":{"values":[0,100,200,300,400,500,600],"title":["(B)  205 min","PSTH (spk/s)"]}},
     "color":{"field":"s","type":"nominal","scale":{"domain":["b","g","r","c"],"range":["#2b3d98","#1f8a3c","#e73529","#55c4c4"]},"legend":null}}},
   {"width":126,"height":163,
    "transform":[{"filter":"datum.p=='B2'"},{"fold":["b","g","r","c"],"as":["s","v"]}],
    "mark":"line",
    "encoding":{
     "x":{"field":"t","type":"quantitative","scale":{"domain":[0,0.08],"nice":false},"axis":null},
     "y":{"field":"v","type":"quantitative","scale":{"domain":[0,646],"nice":false},"axis":null},
     "color":{"field":"s","type":"nominal","scale":{"domain":["b","g","r","c"],"range":["#2b3d98","#1f8a3c","#e73529","#55c4c4"]},"legend":null}}},
   {"width":126,"height":163,
    "transform":[{"filter":"datum.p=='B3'"},{"fold":["b","g","r","c"],"as":["s","v"]}],
    "mark":"line",
    "encoding":{
     "x":{"field":"t","type":"quantitative","scale":{"domain":[0,0.08],"nice":false},"axis":null},
     "y":{"field":"v","type":"quantitative","scale":{"domain":[0,646],"nice":false},"axis":null},
     "color":{"field":"s","type":"nominal","scale":{"domain":["b","g","r","c"],"range":["#2b3d98","#1f8a3c","#e73529","#55c4c4"]},"legend":null}}},
   {"width":126,"height":163,
    "transform":[{"filter":"datum.p=='B4'"},{"fold":["b","g","r","c"],"as":["s","v"]}],
    "mark":"line",
    "encoding":{
     "x":{"field":"t","type":"quantitative","scale":{"domain":[0,0.08],"nice":false},"axis":null},
     "y":{"field":"v","type":"quantitative","scale":{"domain":[0,646],"nice":false},"axis":null},
     "color":{"field":"s","type":"nominal","scale":{"domain":["b","g","r","c"],"range":["#2b3d98","#1f8a3c","#e73529","#55c4c4"]},"legend":null}}}
  ],"spacing":11}
 ],"spacing":8},
 {"hconcat":[
   {"width":127,"height":177,
    "transform":[{"filter":"datum.p=='C1'"},{"fold":["b","g","r","c"],"as":["s","v"]}],
    "mark":"line",
    "encoding":{
     "x":{"field":"t","type":"quantitative","scale":{"domain":[0,0.08],"nice":false},"axis":{"values":[0,0.05],"format":"~g","title":"Time (ms)"}},
     "y":{"field":"v","type":"quantitative","scale":{"domain":[0,647],"nice":false},"axis":{"values":[100,200,300,400,500],"title":["(C)  425 min","PSTH (spk/s)"]}},
     "color":{"field":"s","type":"nominal","scale":{"domain":["b","g","r","c"],"range":["#2b3d98","#1f8a3c","#e73529","#55c4c4"]},"legend":null}}},
   {"width":127,"height":177,
    "transform":[{"filter":"datum.p=='C2'"},{"fold":["b","g","r","c"],"as":["s","v"]}],
    "mark":"line",
    "encoding":{
     "x":{"field":"t","type":"quantitative","scale":{"domain":[0,0.08],"nice":false},"axis":{"values":[0,0.05],"format":"~g","title":"Time (ms)"}},
     "y":{"field":"v","type":"quantitative","scale":{"domain":[0,647],"nice":false},"axis":null},
     "color":{"field":"s","type":"nominal","scale":{"domain":["b","g","r","c"],"range":["#2b3d98","#1f8a3c","#e73529","#55c4c4"]},"legend":null}}},
   {"width":127,"height":177,
    "transform":[{"filter":"datum.p=='C3'"},{"fold":["b","g","r","c"],"as":["s","v"]}],
    "mark":"line",
    "encoding":{
     "x":{"field":"t","type":"quantitative","scale":{"domain":[0,0.08],"nice":false},"axis":{"values":[0,0.05],"format":"~g","title":"Time (ms)"}},
     "y":{"field":"v","type":"quantitative","scale":{"domain":[0,647],"nice":false},"axis":null},
     "color":{"field":"s","type":"nominal","scale":{"domain":["b","g","r","c"],"range":["#2b3d98","#1f8a3c","#e73529","#55c4c4"]},"legend":null}}},
   {"width":127,"height":177,
    "transform":[{"filter":"datum.p=='C4'"},{"fold":["b","g","r","c"],"as":["s","v"]}],
    "mark":"line",
    "encoding":{
     "x":{"field":"t","type":"quantitative","scale":{"domain":[0,0.08],"nice":false},"axis":{"values":[0,0.05],"format":"~g","title":"Time (ms)"}},
     "y":{"field":"v","type":"quantitative","scale":{"domain":[0,647],"nice":false},"axis":null},
     "color":{"field":"s","type":"nominal","scale":{"domain":["b","g","r","c"],"range":["#2b3d98","#1f8a3c","#e73529","#55c4c4"]},"legend":null}}}
 ],"spacing":10}
],
"spacing":1
}
